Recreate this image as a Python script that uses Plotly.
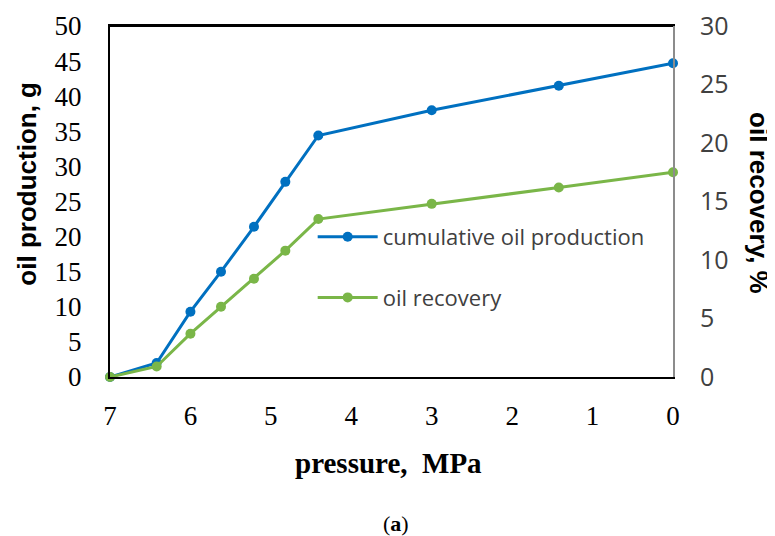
import plotly.graph_objects as go

pressure = [7.0, 6.42, 6.0, 5.62, 5.21, 4.82, 4.41, 3.0, 1.42, 0.0]
cum_oil = [0.0, 2.0, 9.3, 15.0, 21.4, 27.8, 34.4, 38.0, 41.5, 44.7]
recovery = [0.0, 0.9, 3.7, 6.0, 8.4, 10.8, 13.5, 14.8, 16.2, 17.5]
x_ticks = [7, 6, 5, 4, 3, 2, 1, 0]
y1_ticks = list(range(0, 55, 5))
y2_ticks = list(range(0, 35, 5))

BLUE = "#0070C0"
GREEN = "#7AB648"

fig = go.Figure()
fig.add_trace(go.Scatter(
    x=pressure, y=cum_oil, name="cumulative oil production",
    mode="lines+markers", line=dict(color=BLUE, width=3),
    marker=dict(color=BLUE, size=10), cliponaxis=False,
    legendgroup="a", yaxis="y"))
fig.add_trace(go.Scatter(
    x=pressure, y=recovery, name="oil recovery",
    mode="lines+markers", line=dict(color=GREEN, width=3),
    marker=dict(color=GREEN, size=10), cliponaxis=False,
    legendgroup="b", yaxis="y2"))

# the page body adds an 8px offset, so the figure is 8px smaller
fig.update_layout(
    width=767, height=528,
    margin=dict(l=102, r=102, t=18, b=159),
    paper_bgcolor="white", plot_bgcolor="white",
    showlegend=True,
    legend=dict(x=0.36, y=0.312, xanchor="left", yanchor="middle",
                bgcolor="rgba(0,0,0,0)", traceorder="grouped",
                tracegroupgap=29, itemwidth=60,
                font=dict(family="Open Sans", size=22, color="#404040")),
    xaxis=dict(range=[7, 0], tickvals=x_ticks, ticktext=[str(v) for v in x_ticks],
               showgrid=False, zeroline=False, showline=True, mirror=True,
               linecolor="black", linewidth=2,
               ticklabeloverflow="allow",
               ticks="outside", ticklen=14, tickcolor="rgba(0,0,0,0)",
               tickfont=dict(family="Liberation Serif", size=27, color="black")),
    yaxis=dict(range=[0, 50], tickvals=y1_ticks, showgrid=False, zeroline=False,
               showline=True, linecolor="black", linewidth=2, automargin=False,
               ticklabeloverflow="allow",
               ticks="outside", ticklen=21, tickcolor="rgba(0,0,0,0)",
               tickfont=dict(family="Liberation Serif", size=27, color="black")),
    yaxis2=dict(range=[0, 30], tickvals=y2_ticks, overlaying="y", side="right",
                showgrid=False, zeroline=False, showline=True, linecolor="#8c8c8c",
                linewidth=2, automargin=False, ticklabeloverflow="allow",
                ticks="outside", ticklen=20, tickcolor="rgba(0,0,0,0)",
                tickfont=dict(family="Open Sans", size=25, color="#404040")),
)

# top frame line of the plot area
fig.add_shape(type="line", xref="paper", yref="paper", x0=0, x1=1, y0=1, y1=1,
              line=dict(color="black", width=2), layer="above")

fig.add_annotation(text="<b>oil production, g</b>", xref="paper", yref="paper",
                   x=-0.148, y=0.55, textangle=-90, showarrow=False,
                   xanchor="center", yanchor="middle",
                   font=dict(family="Liberation Sans", size=26, color="black"))
fig.add_annotation(text="<b>oil recovery, %</b>", xref="paper", yref="paper",
                   x=1.153, y=0.495, textangle=90, showarrow=False,
                   xanchor="center", yanchor="middle",
                   font=dict(family="Liberation Sans", size=26, color="black"))
fig.add_annotation(text="<b>pressure,  MPa</b>", xref="paper", yref="paper",
                   x=0.494, y=-0.245, showarrow=False,
                   xanchor="center", yanchor="middle",
                   font=dict(family="Liberation Serif", size=29, color="black"))
fig.add_annotation(text="(<b>a</b>)", xref="paper", yref="paper",
                   x=0.508, y=-0.416, showarrow=False,
                   xanchor="center", yanchor="middle",
                   font=dict(family="Liberation Serif", size=22, color="black"))

fig.write_html("out.html")
